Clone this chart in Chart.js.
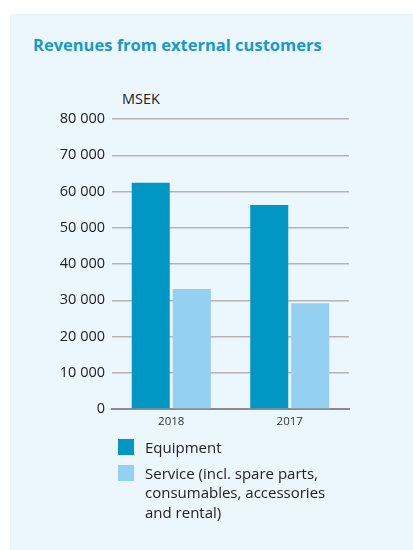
<!DOCTYPE html>
<html>
<head>
<meta charset="utf-8">
<script src="https://cdn.jsdelivr.net/npm/chart.js@4/dist/chart.umd.min.js"></script>
<style>
  html, body { margin: 0; padding: 0; background: #fff; }
  body { width: 413px; height: 550px; position: relative; overflow: hidden; font-family: "Open Sans", sans-serif; }
  #panel { position: absolute; left: 10px; top: 14px; right: 0; bottom: 0; background: #ebf6fd; }
  #title { position: absolute; left: 33px; top: 33px; font-size: 16.5px; font-weight: bold; color: #1799cc; white-space: nowrap; }
  #unit { position: absolute; left: 122px; top: 89px; font-size: 14.5px; color: #222; }
  #wrap { position: absolute; left: 0; top: 0; width: 413px; height: 550px; }
  #legend { position: absolute; left: 118px; top: 438px; font-size: 15px; color: #222; line-height: 19.5px; }
  .row { position: relative; padding-left: 27px; margin-bottom: 6px; }
  .sw { position: absolute; left: 0; top: 1px; width: 16px; height: 16px; }
</style>
</head>
<body>
<div id="panel"></div>
<div id="title">Revenues from external customers</div>
<div id="unit">MSEK</div>
<div id="wrap"><canvas id="chart"></canvas></div>
<div id="legend"></div>
<script>
// values in MSEK
const years = ['2018', '2017'];
const equipment = [62400, 56300];
const service = [33100, 29200];
const yTicks = [0, 10000, 20000, 30000, 40000, 50000, 60000, 70000, 80000];
const seriesNames = ['Equipment', 'Service (incl. spare parts,<br>consumables, accessories<br>and rental)'];
const colors = ['#0097c5', '#93d0f2'];

const fmt = v => String(v).replace(/\B(?=(\d{3})+(?!\d))/g, ' ');

new Chart(document.getElementById('chart'), {
  type: 'bar',
  data: {
    labels: years,
    datasets: [
      { label: 'Equipment', data: equipment, backgroundColor: colors[0] },
      { label: 'Service', data: service, backgroundColor: colors[1] }
    ]
  },
  options: {
    responsive: true,
    maintainAspectRatio: false,
    animation: false,
    layout: { padding: { left: 0, right: 64, top: 119, bottom: 121 } },
    datasets: { bar: { categoryPercentage: 0.692, barPercentage: 0.927 } },
    plugins: { legend: { display: false }, tooltip: { enabled: false } },
    scales: {
      x: {
        grid: { display: false },
        border: { color: '#8c8c8c', width: 2 },
        ticks: { color: '#333', font: { family: 'Open Sans', size: 11.5 }, padding: -2 },
        afterFit: s => { s.height = 20; }
      },
      y: {
        min: 0, max: 80000,
        afterBuildTicks: s => { s.ticks = yTicks.map(v => ({ value: v })); },
        grid: { color: '#b4b4b4', lineWidth: 1.5, drawTicks: false },
        border: { display: false },
        ticks: { color: '#222', font: { family: 'Open Sans', size: 14.5 }, padding: 7, callback: v => fmt(v) },
        afterFit: s => { s.width = 112; }
      }
    }
  }
});

const legend = document.getElementById('legend');
seriesNames.forEach((name, i) => {
  const row = document.createElement('div');
  row.className = 'row';
  row.innerHTML = '<span class="sw" style="background:' + colors[i] + '"></span>' + name;
  legend.appendChild(row);
});
</script>
</body>
</html>
